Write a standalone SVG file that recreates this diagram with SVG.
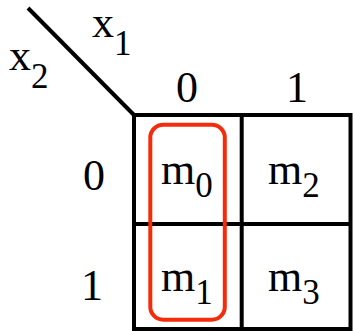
<svg xmlns="http://www.w3.org/2000/svg" width="353" height="331" viewBox="0 0 353 331">
  <style>
    .t { font-family: "Liberation Serif", "Times New Roman", serif; font-size: 44px; fill: #000; }
    .s { font-size: 35px; }
    .ln { stroke: #000; stroke-width: 4; fill: none; }
    .grp { stroke: #f42c0c; stroke-width: 4; fill: none; }
  </style>
  <rect width="353" height="331" fill="#fff"/>
  <g id="axes">
    <line class="ln" x1="28" y1="8" x2="134" y2="115"/>
    <text class="t" x="92" y="37">x<tspan class="s" dy="18">1</tspan></text>
    <text class="t" x="9" y="70">x<tspan class="s" dy="18">2</tspan></text>
    <text class="t" x="187" y="102" text-anchor="middle">0</text>
    <text class="t" x="297" y="102" text-anchor="middle">1</text>
    <text class="t" x="94" y="190" text-anchor="middle">0</text>
    <text class="t" x="92" y="300" text-anchor="middle">1</text>
  </g>
  <g id="grid">
    <rect class="ln" x="134" y="115" width="216.5" height="214"/>
    <line class="ln" x1="241.7" y1="115" x2="241.7" y2="329"/>
    <line class="ln" x1="134" y1="224" x2="350.5" y2="224"/>
  </g>
  <g id="m0"><text class="t" x="161" y="184">m<tspan class="s" dy="13">0</tspan></text></g>
  <g id="m2"><text class="t" x="268" y="184">m<tspan class="s" dy="13">2</tspan></text></g>
  <g id="m1"><text class="t" x="161" y="291">m<tspan class="s" dy="13">1</tspan></text></g>
  <g id="m3"><text class="t" x="268" y="291">m<tspan class="s" dy="13">3</tspan></text></g>
  <g id="group">
    <rect class="grp" x="150.3" y="124.7" width="74.5" height="195" rx="13" ry="13"/>
  </g>
</svg>
